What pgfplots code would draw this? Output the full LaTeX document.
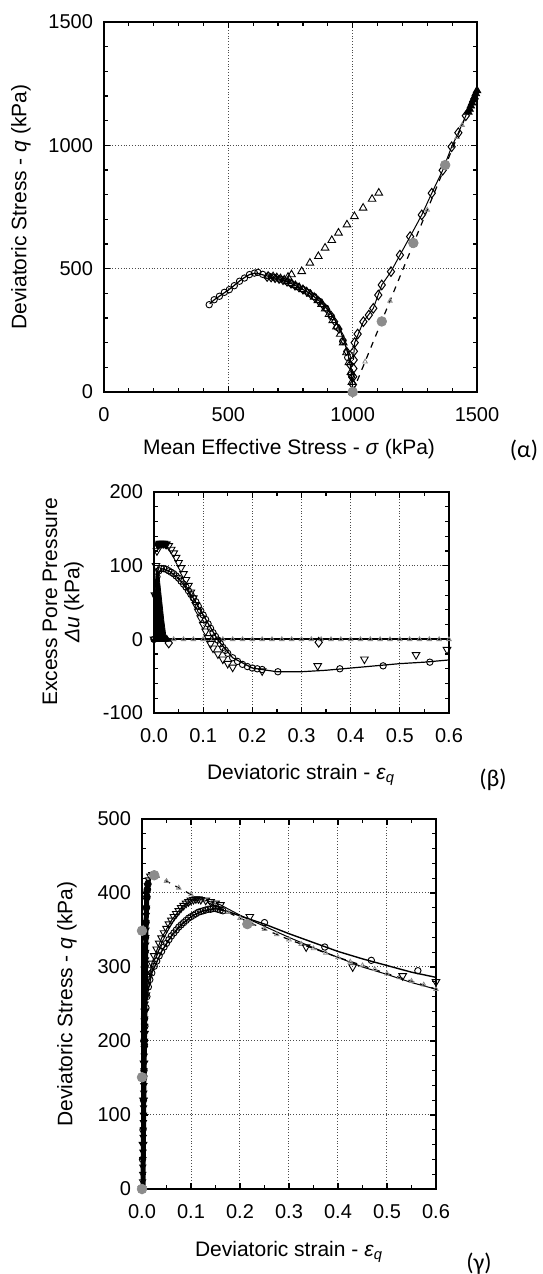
\documentclass[border=0pt]{standalone}
\usepackage{pgfplots}
\pgfplotsset{compat=1.18}
\usepackage{fontspec}
\setmainfont{Liberation Sans}
\newfontfamily\labfont{Carlito}
\definecolor{mgray}{RGB}{140,140,140}
\pgfplotsset{
  panel/.style={
    scale only axis, anchor=south west, clip=false,
    axis line style={line width=0.8pt},
    every tick/.style={black, line width=0.6pt},
    major tick length=3.2pt, minor tick length=2.2pt,
    tick align=inside,
    xmajorgrids, ymajorgrids,
    major grid style={densely dotted, black!70, line width=0.5pt},
    ticklabel style={font=\fontsize{10}{12}\selectfont},
    yticklabel style={xshift=-2pt},
    xticklabel style={yshift=-4.3pt},
    /pgf/number format/assume math mode=true,
    /pgf/number format/1000 sep={},
  },
  circ/.style={only marks, mark=o, mark size=1.6pt, mark options={line width=0.45pt, black}},
  tri/.style={only marks, mark=triangle, mark size=2.2pt, mark options={line width=0.45pt, black}},
  itri/.style={only marks, mark=triangle, mark size=2.2pt, mark options={line width=0.45pt, black, rotate=180}},
  diam/.style={only marks, mark=diamond, mark size=2.4pt, mark options={line width=0.5pt, black}},
  gdot/.style={only marks, mark=*, mark size=2.4pt, mark options={draw=mgray, fill=mgray}},
  gtri/.style={only marks, mark=triangle, mark size=1.3pt, mark options={line width=0.4pt, mgray}},
}
\begin{document}
\begin{tikzpicture}
\useasboundingbox (0,0) rectangle (271pt,637pt);
% ================= panel alpha =================
\begin{axis}[panel, at={(52pt,441pt)}, width=186.5pt, height=185pt,
  xmin=0, xmax=1500, ymin=0, ymax=1500,
  xtick={0,500,1000,1500}, ytick={0,500,1000,1500},
  minor x tick num=4, minor y tick num=4]
% model line (undrained)
\addplot[black, line width=0.6pt] coordinates {
(1000,0)(998,50)(992,100)(982,150)(968,200)(950,250)(930,290)(910,320)(890,345)(870,365)(850,382)(830,398)(810,410)(790,421)(770,432)(750,441)(730,449)(710,456)(690,462)(670,467)(650,472)(630,477)(615,482)(600,480)(585,476)(565,464)(545,450)(525,433)(505,417)(485,403)(465,389)(445,375)(425,358)};
% drained model line through diamonds and dashed line
\addplot[black, line width=0.5pt] coordinates {
(1003,130)(1008,200)(1043,285)(1083,339)(1117,434)(1154,488)(1190,555)(1231,630)(1278,718)(1318,806)(1362,899)(1398,994)(1425,1051)(1455,1120)(1480,1175)(1500,1222)};
\addplot[black, dashed, line width=0.6pt] coordinates {(1000,0)(1500,1230)};
\addplot[gtri] coordinates {(1050,123)(1150,369)(1300,738)(1420,1033)(1440,1082)(1460,1131)(1475,1168)(1490,1205)};
% circles
\addplot[circ] coordinates {
(1000,0)(994,70)(980,140)(960,205)(938,262)(915,305)(892,340)(868,367)(845,387)(822,403)(799,417)(776,429)(753,440)(730,450)(707,458)(684,465)(661,471)(638,477)(619,485)(605,482)(585,476)(565,462)(545,449)(524,431)(504,415)(484,404)(464,388)(443,374)(423,354)};
% triangles: undrained dense (descending then rising)
\addplot[tri] coordinates {
(1000,0)(997,40)(993,80)(985,120)(975,160)(962,200)(950,235)(935,265)(920,290)(905,315)(890,338)(875,356)(860,371)(845,385)(830,397)(815,407)(800,416)(785,424)(770,432)(755,440)(740,448)(725,455)(710,460)(695,464)(680,468)(660,470)(740,466)
(754,476)(795,489)(828,523)(862,550)(889,584)(916,615)(943,645)(977,678)(1007,712)(1042,746)(1078,782)(1105,807)};
% diamonds: descending branch
\addplot[diam, mark size=2pt] coordinates {
(1000,5)(996,60)(988,110)(976,165)(962,210)(945,255)(928,285)(912,312)(896,335)(880,352)(864,368)(848,382)(832,394)(816,405)(800,414)(784,423)(768,430)(752,438)(736,446)(720,452)(704,457)(688,460)(672,463)(656,465)};
% diamonds: drained path
\addplot[diam] coordinates {
(1000,0)(1001,30)(1002,62)(1003,95)(1004,130)(1005,165)(1008,200)(1020,235)(1043,285)(1065,312)(1083,339)(1103,393)(1117,434)(1154,488)(1190,555)(1231,630)(1278,718)(1318,806)(1362,899)(1398,994)(1425,1051)(1455,1120)};
% black blob at top right
\addplot[only marks, mark=triangle*, mark size=2.2pt, black] coordinates {
(1465,1135)(1470,1147)(1475,1160)(1480,1172)(1485,1185)(1490,1197)(1495,1210)(1500,1222)};
\addplot[gdot] coordinates {(1000,0)(1117,286)(1244,604)(1372,920)};
\end{axis}
\node[font=\fontsize{10.5}{12.6}\selectfont, rotate=90] at (10.5pt,533.5pt) {Deviatoric Stress - \textit{q} (kPa)};
\node[font=\fontsize{10.5}{12.6}\selectfont] at (144.5pt,412.5pt) {Mean Effective Stress - \textit{σ} (kPa)};
\node[font=\labfont\fontsize{12}{14}\selectfont] at (262pt,412pt) {(α)};
% ================= panel beta =================
\begin{axis}[panel, at={(77pt,280.5pt)}, width=147.5pt, height=110.5pt,
  xmin=0, xmax=0.6, ymin=-100, ymax=200,
  xtick={0,0.1,0.2,0.3,0.4,0.5,0.6}, xticklabels={0.0,0.1,0.2,0.3,0.4,0.5,0.6},
  ytick={-100,0,100,200},
  minor x tick num=1, minor y tick num=4]
\addplot[black, line width=0.9pt] coordinates {(0,0)(0.6,0)};
\addplot[gtri] coordinates {(0.02,0)(0.04,0)(0.06,0)(0.08,0)(0.1,0)(0.12,0)(0.14,0)(0.16,0)(0.18,0)(0.2,0)(0.22,0)(0.24,0)(0.26,0)(0.28,0)(0.3,0)(0.32,0)(0.34,0)(0.36,0)(0.38,0)(0.4,0)(0.42,0)(0.44,0)(0.46,0)(0.48,0)(0.5,0)(0.52,0)(0.54,0)(0.56,0)(0.58,0)(0.6,0)};
\addplot[fill=black, draw=black] coordinates {
(0,0)(0.002,60)(0.004,88)(0.006,95)(0.009,92)(0.012,75)(0.016,50)(0.02,25)(0.024,5)(0.028,0)} \closedcycle;
\addplot[only marks, mark=triangle*, mark size=2pt, black] coordinates {(0.002,0)(0.006,0)(0.01,0)(0.014,0)(0.018,0)(0.022,0)(0.026,0)};
% model line
\addplot[black, line width=0.6pt] coordinates {
(0,0)(0.003,60)(0.006,85)(0.015,96)(0.03,93)(0.05,83)(0.08,56)(0.1,33)(0.13,-1)(0.16,-25)(0.2,-39)(0.25,-44)(0.3,-44)(0.35,-42)(0.4,-39)(0.45,-36)(0.5,-33)(0.55,-31)(0.6,-28)};
% circles
\addplot[circ] coordinates {
(0,0)(0.003,60)(0.006,85)(0.01,93)(0.015,96)(0.02,96)(0.025,95)(0.03,93)(0.035,91)(0.04,89)(0.045,86)(0.05,83)(0.055,79)(0.06,75)(0.065,71)(0.07,66)(0.075,61)(0.08,56)(0.085,51)(0.09,45)(0.095,39)(0.1,33)(0.105,27)(0.11,21)(0.115,15)(0.12,9)(0.125,4)(0.13,-1)(0.135,-6)(0.14,-11)(0.145,-15)(0.15,-19)(0.16,-25)(0.17,-30)(0.18,-34)(0.19,-37)(0.2,-39)(0.21,-40)(0.22,-41)(0.252,-44)(0.378,-40)(0.466,-36)(0.561,-31)};
% inverted triangles
\addplot[itri] coordinates {
(0,0)(0.002,60)(0.004,100)(0.006,120)(0.008,128)(0.012,130)(0.016,130)(0.02,130)(0.025,129)(0.03,127)(0.035,122)(0.04,117)(0.045,111)(0.05,104)(0.055,97)(0.06,89)(0.065,81)(0.07,73)(0.075,64)(0.08,56)(0.085,47)(0.09,38)(0.095,29)(0.1,20)(0.105,11)(0.11,2)(0.115,-6)(0.12,-12)(0.13,-20)(0.14,-27)(0.15,-33)(0.16,-38)(0.22,-43)(0.333,-36)(0.428,-27)(0.533,-21)(0.596,-14)};
\addplot[only marks, mark=triangle*, mark size=2.2pt, black, mark options={rotate=180}] coordinates {(0.008,128)(0.012,130)(0.016,130)(0.02,130)(0.024,129)};
\addplot[diam] coordinates {(0.03,-5)(0.335,-4)};
\end{axis}
\node[font=\fontsize{10.5}{12.6}\selectfont, rotate=90] at (25pt,336pt) {Excess Pore Pressure};
\node[font=\fontsize{10.5}{12.6}\selectfont, rotate=90] at (37pt,336pt) {\textit{Δu} (kPa)};
\node[font=\fontsize{10.5}{12.6}\selectfont] at (150.5pt,249.5pt) {Deviatoric strain - \textit{ε}\textsubscript{\textit{q}}};
\node[font=\labfont\fontsize{12}{14}\selectfont] at (246.5pt,247pt) {(β)};
% ================= panel gamma =================
\begin{axis}[panel, at={(71pt,42.5pt)}, width=147pt, height=185pt,
  xmin=0, xmax=0.6, ymin=0, ymax=500,
  xtick={0,0.1,0.2,0.3,0.4,0.5,0.6}, xticklabels={0.0,0.1,0.2,0.3,0.4,0.5,0.6},
  ytick={0,100,200,300,400,500},
  minor x tick num=1, minor y tick num=4]
% dashed line from early peak
\addplot[black, dashed, line width=0.6pt] coordinates {
(0.025,425)(0.05,416)(0.1,398)(0.15,382)(0.2,366)(0.25,351)(0.3,337)(0.35,325)(0.4,313)(0.45,302)(0.5,291)(0.55,281)(0.6,270)};
\addplot[gtri] coordinates {
(0.05,416)(0.075,407)(0.1,398)(0.125,390)(0.15,382)(0.175,374)(0.2,366)(0.225,358)(0.25,351)(0.275,344)(0.3,337)(0.325,331)(0.35,325)(0.375,319)(0.4,313)(0.425,307)(0.45,302)(0.475,297)(0.5,291)(0.525,286)(0.55,281)(0.575,276)(0.6,270)};
% model lines
\addplot[black, line width=0.7pt] coordinates {
(0,0)(0.003,120)(0.006,220)(0.01,260)(0.02,292)(0.04,321)(0.06,342)(0.08,357)(0.1,368)(0.12,375)(0.15,379)(0.18,374)(0.2,369)(0.25,358)(0.3,345)(0.35,333)(0.4,321)(0.45,311)(0.5,302)(0.55,293)(0.6,286)};
\addplot[black, line width=0.5pt] coordinates {
(0,0)(0.004,170)(0.008,262)(0.02,305)(0.04,339)(0.06,363)(0.08,380)(0.1,390)(0.115,392)(0.13,390)(0.16,384)(0.2,370)(0.25,355)(0.3,340)(0.35,326)(0.4,313)(0.45,300)(0.5,290)(0.55,279)(0.6,270)};
% steep dense series
\addplot[black, line width=2.5pt] coordinates {(0.002,0)(0.004,150)(0.006,250)(0.008,350)(0.01,400)(0.013,418)};
\addplot[itri, mark size=1.8pt] coordinates {
(0.001,0)(0.0012,10)(0.0014,20)(0.0016,30)(0.0018,40)(0.002,50)(0.0022,60)(0.0024,70)(0.0026,80)(0.0028,90)(0.003,100)(0.0032,110)(0.0034,120)(0.0036,130)(0.0038,140)(0.004,150)(0.0042,160)(0.0044,170)(0.0046,180)(0.0048,190)(0.005,200)(0.0052,210)(0.0054,220)(0.0056,230)(0.0058,240)(0.006,250)(0.0062,260)(0.0064,270)(0.0066,280)(0.0068,290)(0.007,300)(0.0072,310)(0.0074,320)(0.0076,330)(0.0078,340)(0.008,350)(0.0083,360)(0.0086,370)(0.009,380)(0.0095,390)(0.01,400)(0.011,410)(0.013,418)(0.016,423)(0.02,425)};
\addplot[only marks, mark=*, mark size=1.7pt, black] coordinates {
(0.005,300)(0.006,320)(0.007,340)(0.008,360)(0.009,380)(0.01,395)(0.011,405)(0.012,412)(0.006,260)(0.005,230)(0.004,200)(0.003,150)};
% circles
\addplot[circ] coordinates {
(0,0)(0.001,40)(0.002,80)(0.003,120)(0.004,160)(0.005,195)(0.006,220)(0.008,245)(0.01,260)(0.013,273)(0.016,283)(0.02,292)(0.025,301)(0.03,308)(0.035,315)(0.04,321)(0.045,327)(0.05,332)(0.055,337)(0.06,342)(0.065,346)(0.07,350)(0.075,354)(0.08,357)(0.085,360)(0.09,363)(0.095,366)(0.1,368)(0.105,370)(0.11,372)(0.115,374)(0.12,375)(0.125,376)(0.13,377)(0.135,378)(0.14,378)(0.145,379)(0.15,379)(0.155,378)(0.16,377)(0.165,376)(0.25,360)(0.373,327)(0.468,309)(0.563,295)};
% inverted triangles
\addplot[itri] coordinates {
(0,0)(0.002,60)(0.003,120)(0.004,170)(0.005,210)(0.006,240)(0.008,262)(0.01,275)(0.013,287)(0.016,296)(0.02,305)(0.025,315)(0.03,324)(0.035,332)(0.04,339)(0.045,346)(0.05,352)(0.055,358)(0.06,363)(0.065,368)(0.07,372)(0.075,376)(0.08,380)(0.085,383)(0.09,386)(0.095,388)(0.1,390)(0.105,391)(0.11,392)(0.115,392)(0.12,391)(0.13,390)(0.14,388)(0.15,386)(0.16,384)(0.22,368)(0.335,327)(0.43,300)(0.532,288)(0.6,280)};
\addplot[gdot] coordinates {(0,0)(0,151)(0,349)(0.025,424)(0.215,358)};
\end{axis}
\node[font=\fontsize{10.5}{12.6}\selectfont, rotate=90] at (33.5pt,135pt) {Deviatoric Stress - \textit{q} (kPa)};
\node[font=\fontsize{10.5}{12.6}\selectfont] at (144.5pt,11pt) {Deviatoric strain - \textit{ε}\textsubscript{\textit{q}}};
\node[font=\labfont\fontsize{12}{14}\selectfont] at (239.5pt,5pt) {(γ)};
\end{tikzpicture}
\end{document}
